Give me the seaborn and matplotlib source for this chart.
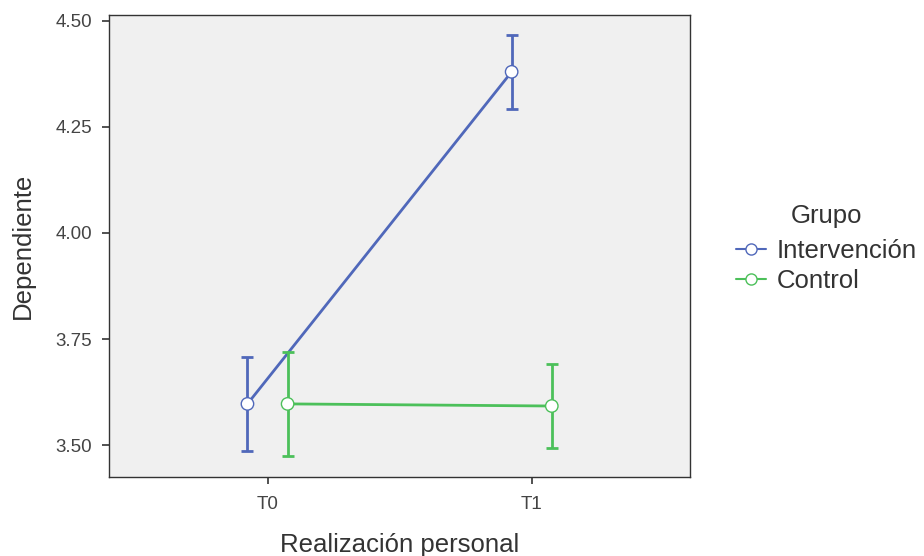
import matplotlib
matplotlib.use("Agg")
import matplotlib.pyplot as plt
import seaborn as sns
import pandas as pd
import numpy as np
from matplotlib.lines import Line2D

times = ["T0", "T1"]
groups = ["Intervención", "Control"]
means_int = [3.597, 4.380]
lo_int = [3.486, 4.292]
hi_int = [3.707, 4.467]
means_ctl = [3.597, 3.592]
lo_ctl = [3.474, 3.493]
hi_ctl = [3.719, 3.691]
colors = {"Intervención": "#5068BA", "Control": "#4CC05A"}

sns.set_theme(style="white")
plt.rcParams["font.family"] = ["Liberation Sans", "DejaVu Sans"]

rows = []
for g, m, lo, hi in [("Intervención", means_int, lo_int, hi_int), ("Control", means_ctl, lo_ctl, hi_ctl)]:
    for i, t in enumerate(times):
        rows.append(dict(Grupo=g, Tiempo=t, idx=i, mean=m[i], lo=lo[i], hi=hi[i]))
df = pd.DataFrame(rows)
offs = {"Intervención": -0.076, "Control": 0.076}
df["x"] = df["idx"] + df["Grupo"].map(offs)

fig = plt.figure(figsize=(9.24, 5.56), dpi=100)
ax = fig.add_axes([0.118, 0.142, 0.629, 0.831])
ax.set_facecolor("#F0F0F0")

sns.lineplot(data=df, x="x", y="mean", hue="Grupo", hue_order=groups, palette=colors,
             ax=ax, legend=False, linewidth=2, sort=True)
for g in groups:
    d = df[df["Grupo"] == g]
    ax.errorbar(d["x"], d["mean"], yerr=[d["mean"] - d["lo"], d["hi"] - d["mean"]],
                fmt="none", ecolor=colors[g], elinewidth=2, capsize=4.5, capthick=2, zorder=3)
sns.scatterplot(data=df, x="x", y="mean", hue="Grupo", hue_order=groups, palette=colors,
                ax=ax, legend=False, s=80, zorder=4)
sc = ax.collections[-1]
sc.set_facecolor("white")
sc.set_edgecolor([colors[g] for g in df["Grupo"]])
sc.set_linewidth(1.0)

ax.set_xlim(-0.6, 1.6)
ax.set_ylim(3.4245, 4.514)
ax.set_xticks([0, 1])
ax.set_xticklabels(times)
ax.set_yticks([3.5, 3.75, 4.0, 4.25, 4.5])
ax.set_yticklabels(["3.50", "3.75", "4.00", "4.25", "4.50"])
ax.tick_params(axis="both", length=5, width=1.2, color="#333333", labelsize=13.5, labelcolor="#444444",
               bottom=True, left=True)
ax.tick_params(axis="y", pad=7)
ax.tick_params(axis="x", pad=9)
for s in ax.spines.values():
    s.set_color("#333333")
    s.set_linewidth(1)
ax.set_xlabel("Realización personal", fontsize=18.5, color="#333333", labelpad=14)
ax.set_ylabel("Dependiente", fontsize=18.5, color="#333333", labelpad=15)
ax.grid(False)

handles = [Line2D([0], [0], color=colors[g], lw=1.5, marker="o", markersize=8,
                  markerfacecolor="white", markeredgecolor=colors[g]) for g in groups]
leg = fig.legend(handles, groups, title="Grupo", loc="center left", bbox_to_anchor=(0.785, 0.553),
                 frameon=False, fontsize=18.5, title_fontsize=18.5, handlelength=1.2,
                 handletextpad=0.4, labelspacing=0.25, borderaxespad=0)
leg._legend_box.sep = 8
leg.get_title().set_color("#333333")
for t in leg.get_texts():
    t.set_color("#333333")

fig.savefig("out.png", dpi=100)
